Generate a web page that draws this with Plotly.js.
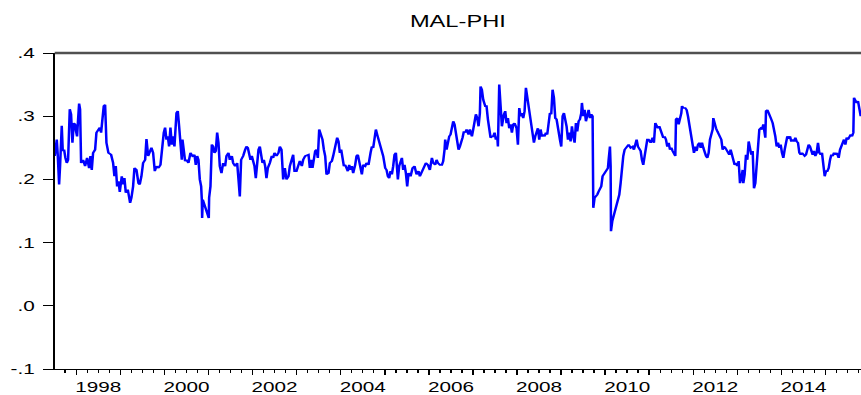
<!DOCTYPE html>
<html><head><meta charset="utf-8">
<script src="https://cdn.plot.ly/plotly-3.0.1.min.js"></script>
<style>
html,body{margin:0;padding:0;background:#fff;overflow:hidden;}
#wrap{width:861px;height:395px;overflow:hidden;}
#chart{width:582px;height:395px;transform:scaleX(1.4794);transform-origin:0 0;}
</style></head><body>
<div id="wrap"><div id="chart"></div></div>
<script>
const seriesName = 'MAL-PHI';

// [decimal year, value]
const obs1997to2002 = [
[1997.512,0.237],[1997.535,0.260],[1997.558,0.263],[1997.580,0.239],[1997.611,0.192],[1997.633,0.221],[1997.656,0.252],[1997.671,0.285],[1997.694,0.245],[1997.724,0.247],[1997.754,0.234],[1997.785,0.226],[1997.815,0.231],[1997.830,0.268],[1997.853,0.311],[1997.883,0.303],[1997.913,0.258],[1997.944,0.289],[1997.974,0.287],[1997.996,0.276],
[1998.019,0.268],[1998.042,0.295],[1998.065,0.320],[1998.087,0.311],[1998.110,0.226],[1998.155,0.231],[1998.201,0.221],[1998.246,0.234],[1998.292,0.218],[1998.322,0.237],[1998.352,0.215],[1998.382,0.242],[1998.428,0.247],[1998.458,0.274],[1998.503,0.279],[1998.534,0.282],[1998.564,0.274],[1998.594,0.300],[1998.624,0.316],[1998.655,0.318],[1998.685,0.258],[1998.730,0.242],[1998.791,0.239],[1998.836,0.226],[1998.866,0.205],[1998.897,0.221],[1998.927,0.189],[1998.957,0.197],[1998.988,0.180],
[1999.033,0.205],[1999.063,0.192],[1999.093,0.202],[1999.124,0.179],[1999.169,0.184],[1999.199,0.169],[1999.222,0.163],[1999.252,0.171],[1999.290,0.189],[1999.320,0.218],[1999.366,0.215],[1999.411,0.194],[1999.441,0.192],[1999.479,0.205],[1999.517,0.226],[1999.563,0.231],[1999.593,0.264],[1999.631,0.237],[1999.668,0.242],[1999.706,0.250],[1999.744,0.242],[1999.782,0.213],[1999.820,0.221],[1999.865,0.218],[1999.911,0.223],[1999.956,0.268],[1999.986,0.274],
[2000.016,0.282],[2000.047,0.263],[2000.077,0.268],[2000.107,0.252],[2000.137,0.282],[2000.168,0.255],[2000.198,0.268],[2000.228,0.252],[2000.274,0.305],[2000.304,0.308],[2000.334,0.284],[2000.364,0.263],[2000.395,0.231],[2000.410,0.263],[2000.440,0.237],[2000.470,0.229],[2000.501,0.231],[2000.546,0.226],[2000.591,0.242],[2000.637,0.237],[2000.682,0.239],[2000.712,0.223],[2000.743,0.237],[2000.773,0.231],[2000.803,0.200],[2000.834,0.189],[2000.849,0.168],[2000.856,0.139],[2000.871,0.168],
[2001.007,0.139],[2001.015,0.171],[2001.045,0.189],[2001.076,0.255],[2001.106,0.252],[2001.136,0.242],[2001.166,0.245],[2001.197,0.274],[2001.227,0.258],[2001.257,0.221],[2001.295,0.210],[2001.333,0.226],[2001.378,0.221],[2001.408,0.237],[2001.454,0.242],[2001.484,0.231],[2001.530,0.237],[2001.560,0.226],[2001.605,0.221],[2001.651,0.226],[2001.681,0.200],[2001.711,0.173],[2001.741,0.231],[2001.787,0.237],[2001.832,0.247],[2001.862,0.252],[2001.893,0.250],[2001.923,0.242],[2001.953,0.231],[2001.983,0.237],
[2002.014,0.229],[2002.044,0.221],[2002.074,0.202],[2002.104,0.237],[2002.135,0.247],[2002.165,0.252],[2002.195,0.237],[2002.226,0.226],[2002.256,0.231],[2002.286,0.221],[2002.316,0.202],[2002.347,0.218],[2002.392,0.226],[2002.437,0.237],[2002.468,0.234],[2002.498,0.242],[2002.543,0.237],[2002.589,0.242]
];

const obs2002to2008 = [
[2002.619,0.252],[2002.657,0.247],[2002.695,0.200],[2002.732,0.218],[2002.770,0.200],[2002.816,0.205],[2002.846,0.221],[2002.891,0.231],[2002.922,0.239],[2002.952,0.213],[2002.997,0.213],
[2003.043,0.223],[2003.073,0.229],[2003.118,0.221],[2003.149,0.231],[2003.194,0.237],[2003.239,0.239],[2003.270,0.239],[2003.300,0.218],[2003.330,0.231],[2003.360,0.218],[2003.391,0.234],[2003.421,0.245],[2003.451,0.247],[2003.481,0.234],[2003.512,0.279],[2003.542,0.271],[2003.587,0.263],[2003.618,0.247],[2003.648,0.237],[2003.678,0.208],[2003.724,0.210],[2003.754,0.226],[2003.799,0.229],[2003.829,0.237],[2003.875,0.252],[2003.920,0.266],[2003.950,0.260],[2003.981,0.242],
[2004.011,0.247],[2004.041,0.237],[2004.072,0.221],[2004.102,0.223],[2004.132,0.218],[2004.162,0.213],[2004.193,0.223],[2004.223,0.215],[2004.253,0.221],[2004.283,0.210],[2004.329,0.223],[2004.359,0.237],[2004.389,0.239],[2004.420,0.226],[2004.450,0.221],[2004.480,0.208],[2004.510,0.223],[2004.556,0.221],[2004.586,0.226],[2004.631,0.223],[2004.677,0.242],[2004.707,0.252],[2004.737,0.250],[2004.768,0.266],[2004.798,0.279],[2004.828,0.271],[2004.858,0.263],[2004.889,0.252],[2004.919,0.247],[2004.964,0.237],
[2005.010,0.218],[2005.040,0.215],[2005.070,0.205],[2005.100,0.202],[2005.131,0.213],[2005.161,0.208],[2005.191,0.221],[2005.221,0.239],[2005.252,0.242],[2005.267,0.223],[2005.297,0.200],[2005.327,0.221],[2005.358,0.231],[2005.388,0.234],[2005.418,0.215],[2005.448,0.223],[2005.479,0.210],[2005.509,0.189],[2005.539,0.210],[2005.585,0.205],[2005.630,0.218],[2005.675,0.221],[2005.721,0.208],[2005.766,0.213],[2005.796,0.205],[2005.842,0.213],[2005.887,0.221],[2005.933,0.226],[2005.978,0.223],
[2006.023,0.215],[2006.069,0.234],[2006.099,0.226],[2006.144,0.223],[2006.175,0.231],[2006.205,0.226],[2006.250,0.223],[2006.296,0.223],[2006.326,0.229],[2006.356,0.247],[2006.371,0.263],[2006.402,0.247],[2006.432,0.263],[2006.462,0.268],[2006.492,0.271],[2006.523,0.281],[2006.553,0.292],[2006.583,0.287],[2006.613,0.274],[2006.644,0.263],[2006.674,0.247],[2006.704,0.252],[2006.734,0.263],[2006.765,0.266],[2006.795,0.276],[2006.825,0.274],[2006.856,0.279],[2006.901,0.271],[2006.931,0.279],[2006.977,0.268],
[2007.007,0.279],[2007.037,0.292],[2007.067,0.303],[2007.098,0.297],[2007.128,0.284],[2007.158,0.305],[2007.173,0.347],[2007.203,0.342],[2007.234,0.326],[2007.279,0.316],[2007.309,0.316],[2007.340,0.295],[2007.370,0.274],[2007.400,0.266],[2007.431,0.268],[2007.461,0.268],[2007.491,0.274],[2007.521,0.263],[2007.552,0.268],[2007.567,0.252],[2007.597,0.350],[2007.627,0.295],[2007.657,0.284],[2007.703,0.303],[2007.733,0.308],[2007.763,0.289],[2007.794,0.297],[2007.824,0.281],[2007.854,0.287],[2007.884,0.274],[2007.915,0.287],[2007.945,0.289],[2007.990,0.281],
[2008.021,0.255],[2008.051,0.313],[2008.081,0.300],[2008.111,0.305],[2008.141,0.297],[2008.172,0.308],[2008.202,0.345],[2008.232,0.329],[2008.262,0.310],[2008.293,0.300],[2008.323,0.281],[2008.353,0.274],[2008.384,0.258],[2008.414,0.268],[2008.444,0.274],[2008.474,0.281],[2008.505,0.263],[2008.535,0.279],[2008.565,0.268],[2008.596,0.271],[2008.626,0.268],[2008.656,0.274],[2008.686,0.271],[2008.717,0.284],[2008.747,0.305],[2008.777,0.303],[2008.807,0.342],[2008.838,0.329],[2008.868,0.297],[2008.898,0.295],[2008.928,0.279],[2008.959,0.268]
];

const obs2009to2015 = [
[2008.974,0.263],[2009.004,0.252],[2009.035,0.300],[2009.065,0.305],[2009.095,0.295],[2009.125,0.284],[2009.156,0.263],[2009.186,0.274],[2009.216,0.260],[2009.246,0.284],[2009.277,0.268],[2009.307,0.258],[2009.337,0.289],[2009.367,0.276],[2009.398,0.292],[2009.428,0.295],[2009.458,0.305],[2009.473,0.321],[2009.504,0.300],[2009.534,0.310],[2009.564,0.292],[2009.594,0.303],[2009.625,0.310],[2009.655,0.297],[2009.685,0.303],[2009.715,0.300],[2009.731,0.155],[2009.761,0.171],[2009.791,0.173],[2009.821,0.176],[2009.852,0.181],[2009.882,0.184],[2009.912,0.189],[2009.942,0.205],[2009.973,0.208],
[2010.003,0.210],[2010.033,0.213],[2010.063,0.218],[2010.079,0.231],[2010.109,0.252],[2010.124,0.221],[2010.132,0.118],[2010.162,0.134],[2010.200,0.144],[2010.245,0.155],[2010.290,0.165],[2010.321,0.176],[2010.351,0.194],[2010.381,0.221],[2010.411,0.237],[2010.442,0.247],[2010.472,0.250],[2010.502,0.252],[2010.532,0.255],[2010.578,0.250],[2010.623,0.252],[2010.653,0.247],[2010.684,0.255],[2010.714,0.263],[2010.744,0.252],[2010.775,0.247],[2010.805,0.245],[2010.835,0.231],[2010.865,0.223],[2010.896,0.237],[2010.926,0.252],[2010.956,0.263],[2010.986,0.263],
[2011.032,0.258],[2011.077,0.266],[2011.107,0.258],[2011.138,0.289],[2011.168,0.284],[2011.198,0.281],[2011.228,0.284],[2011.259,0.276],[2011.289,0.271],[2011.319,0.266],[2011.349,0.268],[2011.380,0.263],[2011.410,0.252],[2011.440,0.258],[2011.471,0.247],[2011.501,0.250],[2011.531,0.245],[2011.561,0.239],[2011.592,0.237],[2011.607,0.295],[2011.637,0.297],[2011.667,0.287],[2011.697,0.295],[2011.728,0.305],[2011.743,0.316],[2011.773,0.313],[2011.818,0.313],[2011.849,0.310],[2011.879,0.300],[2011.909,0.287],[2011.940,0.279],[2011.970,0.263],
[2012.000,0.252],[2012.015,0.242],[2012.046,0.252],[2012.076,0.245],[2012.106,0.255],[2012.136,0.258],[2012.167,0.250],[2012.197,0.258],[2012.227,0.250],[2012.257,0.242],[2012.288,0.237],[2012.318,0.234],[2012.348,0.242],[2012.378,0.263],[2012.409,0.274],[2012.439,0.279],[2012.454,0.297],[2012.484,0.287],[2012.515,0.281],[2012.545,0.276],[2012.575,0.271],[2012.605,0.268],[2012.636,0.263],[2012.666,0.247],[2012.696,0.252],[2012.726,0.250],[2012.757,0.247],[2012.787,0.242],[2012.817,0.239],[2012.847,0.247],[2012.878,0.237],[2012.908,0.229],[2012.938,0.223],[2012.968,0.226],[2012.999,0.221],
[2013.029,0.229],[2013.059,0.194],[2013.089,0.202],[2013.120,0.215],[2013.135,0.194],[2013.165,0.208],[2013.195,0.239],[2013.226,0.231],[2013.256,0.260],[2013.286,0.242],[2013.316,0.239],[2013.347,0.245],[2013.377,0.186],[2013.407,0.194],[2013.437,0.226],[2013.468,0.263],[2013.498,0.279],[2013.528,0.281],[2013.558,0.279],[2013.589,0.287],[2013.619,0.276],[2013.634,0.266],[2013.649,0.308],[2013.680,0.310],[2013.710,0.305],[2013.740,0.297],[2013.770,0.295],[2013.801,0.289],[2013.831,0.281],[2013.861,0.268],[2013.891,0.252],[2013.922,0.258],[2013.952,0.250],[2013.982,0.255],
[2014.012,0.242],[2014.043,0.234],[2014.073,0.247],[2014.103,0.260],[2014.133,0.268],[2014.164,0.266],[2014.194,0.268],[2014.224,0.260],[2014.254,0.263],[2014.285,0.260],[2014.315,0.266],[2014.345,0.260],[2014.375,0.258],[2014.406,0.242],[2014.436,0.239],[2014.466,0.242],[2014.496,0.239],[2014.527,0.237],[2014.557,0.239],[2014.587,0.247],[2014.617,0.255],[2014.648,0.252],[2014.678,0.242],[2014.708,0.239],[2014.738,0.245],[2014.769,0.237],[2014.799,0.242],[2014.829,0.258],[2014.859,0.242],[2014.890,0.239],[2014.920,0.242],[2014.935,0.226],[2014.951,0.223],[2014.981,0.205],
[2015.011,0.213],[2015.041,0.213],[2015.072,0.218],[2015.102,0.231],[2015.132,0.239],[2015.162,0.237],[2015.193,0.242],[2015.223,0.239],[2015.253,0.242],[2015.283,0.237],[2015.298,0.234],[2015.329,0.247],[2015.359,0.252],[2015.389,0.258],[2015.419,0.263],[2015.450,0.255],[2015.480,0.266],[2015.510,0.263],[2015.540,0.268],[2015.571,0.271],[2015.601,0.268],[2015.631,0.274],[2015.646,0.329],[2015.677,0.326],[2015.707,0.321],[2015.737,0.324],[2015.767,0.310],[2015.798,0.300]
];

const yTickVals = [-0.1, 0, 0.1, 0.2, 0.3, 0.4];
const yTickText = ['-.1', '.0', '.1', '.2', '.3', '.4'];
const yearTicks = [1998,1999,2000,2001,2002,2003,2004,2005,2006,2007,2008,2009,2010,2011,2012,2013,2014,2015];
const yearLabels = ['1998','2000','2002','2004','2006','2008','2010','2012','2014'];

const obs = obs1997to2002.concat(obs2002to2008, obs2009to2015);
const xRange = [1997.512, 2015.805];
const FONT = 'Liberation Sans, Arial, sans-serif';

Plotly.newPlot('chart', [{
  type: 'scatter', mode: 'lines',
  x: obs.map(p => p[0]), y: obs.map(p => p[1]),
  line: {color: '#0000ff', width: 1.7},
  hoverinfo: 'skip', showlegend: false
}, {
  // empty trace that only carries the year-label axis
  type: 'scatter', mode: 'lines', x: [], y: [], xaxis: 'x2', yaxis: 'y',
  hoverinfo: 'skip', showlegend: false
}], {
  width: 582, height: 395,
  margin: {l: 37, r: 0, t: 53, b: 26, pad: 0},
  paper_bgcolor: '#ffffff', plot_bgcolor: '#ffffff',
  showlegend: false,
  title: {text: seriesName, x: 0.5, xref: 'paper', y: 0.947, yref: 'container', yanchor: 'middle',
          font: {family: FONT, size: 16, color: '#000000'}},
  xaxis: {
    range: xRange, tickmode: 'array', tickvals: yearTicks, showticklabels: false,
    ticks: 'outside', ticklen: 5, tickwidth: 1, tickcolor: '#000',
    showline: true, linecolor: '#000', linewidth: 1.3,
    showgrid: false, zeroline: false,
    minor: {tickmode: 'linear', tick0: 1997.5, dtick: 0.25, ticks: 'outside', ticklen: 3, tickwidth: 1, tickcolor: '#000', showgrid: false}
  },
  xaxis2: {
    overlaying: 'x', anchor: 'y', side: 'bottom', range: xRange, autorange: false,
    tickmode: 'array', tickvals: yearLabels.map(l => Number(l) + 0.5), ticktext: yearLabels,
    ticks: '', showline: false, showgrid: false, zeroline: false,
    tickfont: {family: FONT, size: 14, color: '#000'}, ticklabelstandoff: 8
  },
  yaxis: {
    range: [-0.1, 0.4], tickmode: 'array', tickvals: yTickVals, ticktext: yTickText,
    ticks: 'outside', ticklen: 6.4, tickwidth: 1, tickcolor: '#000',
    showline: true, linecolor: '#000', linewidth: 1.35,
    showgrid: false, zeroline: false,
    tickfont: {family: FONT, size: 14, color: '#000'}, ticklabelstandoff: 3
  },
  shapes: [{type: 'line', xref: 'paper', yref: 'paper', x0: 0, x1: 1, y0: 1, y1: 1,
            line: {color: '#505050', width: 2.5}}]
}, {staticPlot: true, displayModeBar: false});
</script>
</body></html>
